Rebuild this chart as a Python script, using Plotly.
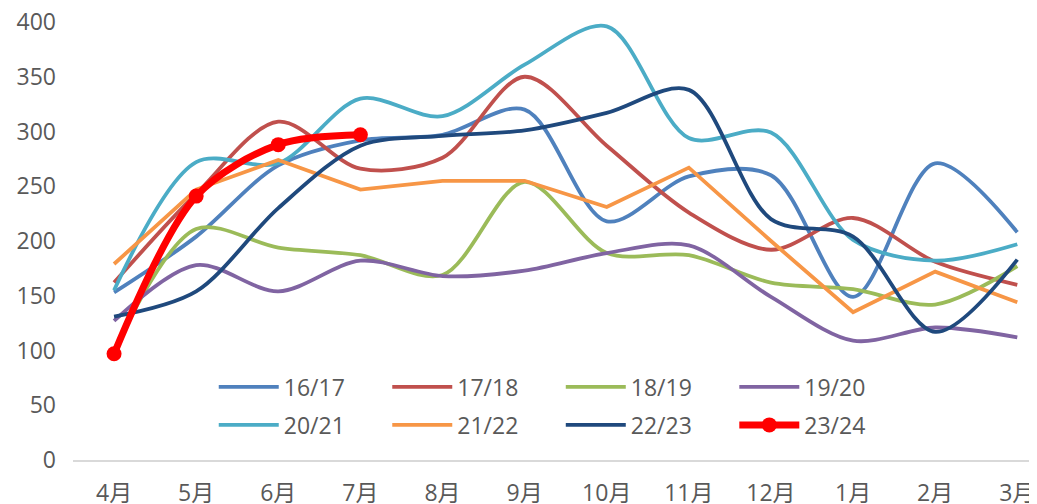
import plotly.graph_objects as go

months = ['4月', '5月', '6月', '7月', '8月', '9月', '10月', '11月', '12月', '1月', '2月', '3月']

s16_17 = [153, 204, 269, 292, 297, 320, 218, 259, 260, 149, 271, 208]
s17_18 = [162, 243, 309, 266, 276, 350, 287, 226, 192, 221, 181, 160]
s18_19 = [100, 211, 194, 187, 169, 254, 189, 187, 162, 156, 142, 177]
s19_20 = [127, 178, 154, 182, 168, 173, 189, 196, 149, 109, 121, 112]
s20_21 = [155, 272, 271, 330, 314, 361, 396, 294, 299, 201, 182, 197]
s21_22 = [179, 247, 274, 247, 255, 255, 231, 267, 200, 135, 172, 144]
s22_23 = [131, 154, 230, 287, 296, 301, 317, 338, 220, 204, 117, 183]
s23_24 = [97, 241, 288, 297]

font_family = 'Open Sans, Noto Sans CJK SC, sans-serif'
grey = '#595959'

series = [
    ('16/17', s16_17, '#4F81BD', 'spline', 'legend'),
    ('17/18', s17_18, '#C0504D', 'spline', 'legend'),
    ('18/19', s18_19, '#9BBB59', 'spline', 'legend'),
    ('19/20', s19_20, '#8064A2', 'spline', 'legend'),
    ('20/21', s20_21, '#4BACC6', 'spline', 'legend2'),
    ('21/22', s21_22, '#F79646', 'linear', 'legend2'),
    ('22/23', s22_23, '#1F497D', 'spline', 'legend2'),
]

fig = go.Figure()
for name, vals, color, shape, leg in series:
    fig.add_trace(go.Scatter(
        x=months[:len(vals)], y=vals, name=name, mode='lines',
        line=dict(color=color, width=3.8, shape=shape, smoothing=0.9),
        legend=leg,
    ))

fig.add_trace(go.Scatter(
    x=months[:len(s23_24)], y=s23_24, name='23/24', mode='lines+markers',
    line=dict(color='#FF0000', width=7, shape='spline', smoothing=0.9),
    marker=dict(color='#FF0000', size=15),
    legend='legend2', cliponaxis=False,
))

leg_common = dict(
    orientation='h', xanchor='left', yanchor='middle',
    font=dict(family=font_family, size=23, color=grey),
    entrywidth=0.18, entrywidthmode='fraction', itemwidth=60,
    bgcolor='rgba(0,0,0,0)',
)

# page adds an 8px body margin, so the figure is a little smaller
fig.update_layout(
    width=1029, height=496,
    margin=dict(l=65, r=0, t=14, b=44),
    paper_bgcolor='white', plot_bgcolor='white',
    font=dict(family=font_family, size=23, color=grey),
    showlegend=True,
    legend=dict(x=0.146, y=0.167, **leg_common),
    legend2=dict(x=0.146, y=0.080, **leg_common),
    xaxis=dict(
        type='category', range=[-0.5, 11.24], automargin=False,
        showgrid=False, showline=True, linecolor='#D9D9D9', linewidth=1.5,
        ticks='', tickfont=dict(size=23, color=grey), ticklabelstandoff=12,
        zeroline=False,
    ),
    yaxis=dict(
        range=[0, 400], dtick=50, showgrid=False, showline=False,
        zeroline=False, ticks='', tickfont=dict(size=23, color=grey),
        ticklabelstandoff=16, ticklabeloverflow='allow', automargin=False,
    ),
)

fig.write_html('out.html')
